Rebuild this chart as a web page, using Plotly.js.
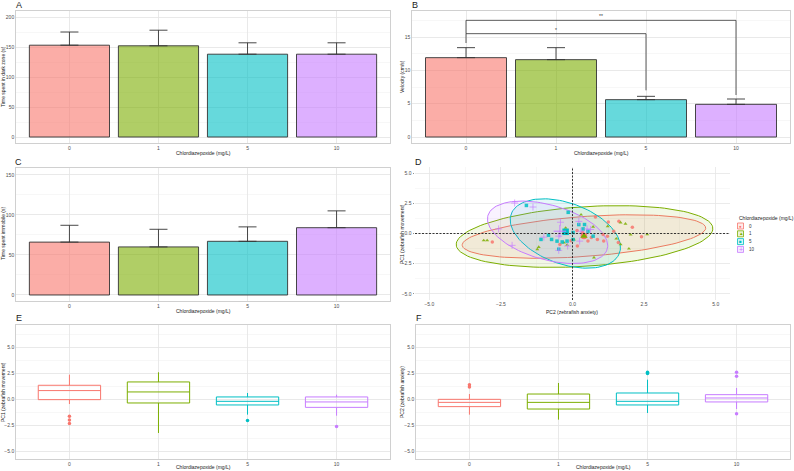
<!DOCTYPE html>
<html>
<head>
<meta charset="utf-8">
<script src="https://cdn.plot.ly/plotly-3.0.1.min.js"></script>
<style>
  body { margin: 0; background: #fff; }
  #chart { width: 794px; height: 471px; }
</style>
</head>
<body>
<div id="chart"></div>
<script>
// groups
var doses = ['0', '1', '5', '10'];
var hue = ['248,118,109', '124,174,0', '0,191,196', '199,124,255'];

// A: time in dark zone (mean + upper error)
var darkMean = [153, 152, 138, 138];
var darkErr = [22, 26, 19, 19];
// B: velocity
var velMean = [11.9, 11.6, 5.6, 4.9];
var velErr = [1.5, 1.8, 0.5, 0.8];
// C: time immobile
var immMean = [66, 60, 67, 84];
var immErr = [21, 22, 18, 21];

// B significance brackets
var brk1X = ['0', '0', '5', '5'];
var brk1Y = [14.1, 15.5, 15.5, 7.0];
var brk2X = ['0', '0', '10', '10'];
var brk2Y = [15.5, 17.5, 17.5, 6.3];

// D: PCA scores (x = PC2, y = PC1)
var pc2_0 = [-2.8, 0.8, 1.62, 2.09, 2.41, 1.07, 1.22, 0.87, 0.66, 0.54, 1.09, 1.6, 1.44, 0.17, -0.44, -0.05, 0.16, 1.25, 0.35];
var pc1_0 = [-0.71, 1.37, 1.01, 0.52, -0.27, -0.08, -0.22, -0.49, -0.33, -0.63, -0.63, -0.74, 0.19, -1.04, -0.9, -0.6, 0.25, 0.95, 0.1];
var pc2_1 = [-3.1, -2.98, -1.23, -1.18, 0.3, 1.23, 1.68, 1.85, 2.61, 2.03, 1.53, 1.68, 1.97, 0.75, 0.72, -0.24, -0.3, 0.05, -0.19];
var pc1_1 = [-0.57, -0.57, -1.31, -1.12, 1.56, 0.6, 0.9, 0.8, -0.08, -0.1, -0.43, -0.9, -1.26, -1.99, 0.55, 0.46, -0.76, -0.5, -0.95];
var pc2_5 = [-1.61, -0.15, 0.42, 0.22, 0.37, 0.54, 0.72, 0.02, 0.02, -1.1, -0.73, -0.54, -0.19, -0.48, -0.84, -0.36];
var pc1_5 = [2.32, 1.75, 0.74, 0.74, 0.38, 0.19, -0.22, 0.08, -0.5, -0.49, -0.49, -0.63, -0.63, -1.3, -0.14, -0.7];
var pc2_10 = [-2.02, -1.38, -2.58, -2.11, -0.42, -1.0, -0.48, -0.48, 0.22, 0.51, 0.29, 0.63, -0.17, 0.25];
var pc1_10 = [2.52, 2.19, 0.38, -0.98, 0.93, -0.3, -0.22, -1.39, 1.0, 0.38, 0.19, 0.33, -1.04, -0.63];
var cenX = [0.4, 0.4, -0.24, -0.44];
var cenY = [-0.2, -0.22, 0.14, 0.19];
// ellipses: centre, semi-axes, angle (deg)
var ellCx = [0.4, 0.42, -0.25, -0.87];
var ellCy = [-0.25, -0.25, 0.0, 0.1];
var ellA = [4.32, 4.55, 3.02, 2.85];
var ellB = [1.63, 2.43, 1.68, 1.72];
var ellAng = [11, 11.8, 112, 122];

// E: PC1 boxplots
var pc1Q1 = [0.0, -0.32, -0.51, -0.74];
var pc1Med = [0.87, 0.74, -0.16, -0.22];
var pc1Q3 = [1.38, 1.7, 0.26, 0.26];
var pc1Lo = [-0.42, -3.2, -1.44, -1.54];
var pc1Hi = [2.4, 2.63, 0.64, 0.48];
var pc1Out = [[-1.6, -1.95, -2.3], [], [-2.0], [-2.57]];
// F: PC2 boxplots
var pc2Q1 = [-0.67, -0.9, -0.51, -0.22];
var pc2Med = [-0.26, -0.26, -0.16, 0.16];
var pc2Q3 = [0.03, 0.54, 0.64, 0.48];
var pc2Lo = [-1.44, -1.92, -1.28, -0.9];
var pc2Hi = [0.54, 1.6, 1.92, 1.12];
var pc2Out = [[1.44, 1.22], [], [2.63, 2.5], [2.63, 2.24, -1.35]];

var W = 794, H = 471;
function px(x) { return x / W; }
function py(y) { return 1 - y / H; }
function col(i, a) { return 'rgba(' + hue[i] + ',' + a + ')'; }

var ink = '#333333';
var tickFont = {size: 5, color: '#4d4d4d'};

function catAxis(x0, x1, anchor) {
    return {domain: [px(x0), px(x1)], anchor: anchor, type: 'category',
        categoryorder: 'array', categoryarray: doses, range: [-0.6, 3.6],
        showgrid: true, gridcolor: '#e3e3e3', gridwidth: 0.8, zeroline: false,
        showline: true, mirror: true, linecolor: '#c4c4c4', linewidth: 0.8,
        ticks: '', tickfont: tickFont, fixedrange: true};
}
function valAxis(top, bottom, anchor, range, dtick, fmt) {
    return {domain: [py(bottom), py(top)], anchor: anchor, range: range,
        dtick: dtick, tick0: 0, tickformat: fmt || '',
        showgrid: true, gridcolor: '#e3e3e3', gridwidth: 0.8, zeroline: false,
        minor: {dtick: dtick / 2, tick0: 0, showgrid: true, gridcolor: '#efefef', gridwidth: 0.5},
        showline: true, mirror: true, linecolor: '#c4c4c4', linewidth: 0.8,
        ticks: '', tickfont: tickFont, fixedrange: true};
}

function barTrace(vals, errs, xa, ya) {
    return {type: 'bar', x: doses, y: vals, xaxis: xa, yaxis: ya, width: 0.9,
        marker: {color: doses.map(function (d, i) { return col(i, 0.6); }),
                 line: {color: ink, width: 0.9}},
        error_y: {type: 'data', symmetric: false, array: errs, arrayminus: [0, 0, 0, 0],
                  color: ink, thickness: 0.9, width: 9},
        hoverinfo: 'skip'};
}

var data = [
    barTrace(darkMean, darkErr, 'x', 'y'),
    barTrace(velMean, velErr, 'x2', 'y2'),
    barTrace(immMean, immErr, 'x3', 'y3'),
    {type: 'scatter', mode: 'lines', x: brk1X, y: brk1Y, xaxis: 'x2', yaxis: 'y2',
     line: {color: ink, width: 0.8}},
    {type: 'scatter', mode: 'lines', x: brk2X, y: brk2Y, xaxis: 'x2', yaxis: 'y2',
     line: {color: ink, width: 0.8}}
];

// D: ellipses
function ellipse(i) {
    var xs = [], ys = [], t = ellAng[i] * Math.PI / 180;
    for (var k = 0; k <= 120; k++) {
        var u = 2 * Math.PI * k / 120;
        var ex = ellA[i] * Math.cos(u), ey = ellB[i] * Math.sin(u);
        xs.push(ellCx[i] + ex * Math.cos(t) - ey * Math.sin(t));
        ys.push(ellCy[i] + ex * Math.sin(t) + ey * Math.cos(t));
    }
    return {x: xs, y: ys};
}
for (var i = 0; i < 4; i++) {
    var e = ellipse(i);
    data.push({type: 'scatter', mode: 'lines', x: e.x, y: e.y, xaxis: 'x4', yaxis: 'y4',
        fill: 'toself', fillcolor: col(i, 0.1), line: {color: col(i, 1), width: 1}});
}
var pcX = [pc2_0, pc2_1, pc2_5, pc2_10];
var pcY = [pc1_0, pc1_1, pc1_5, pc1_10];
var syms = ['circle', 'triangle-up', 'square', 'cross-thin'];
for (var i = 0; i < 4; i++) {
    var cross = syms[i] === 'cross-thin';
    data.push({type: 'scatter', mode: 'markers', x: pcX[i], y: pcY[i], xaxis: 'x4', yaxis: 'y4',
        marker: {symbol: syms[i], size: cross ? 5 : 3.5, color: col(i, 0.85),
                 line: {color: col(i, 0.85), width: cross ? 0.8 : 0}}});
}
for (var i = 0; i < 4; i++) {
    var cross = syms[i] === 'cross-thin';
    data.push({type: 'scatter', mode: 'markers', x: [cenX[i]], y: [cenY[i]], xaxis: 'x4', yaxis: 'y4',
        marker: {symbol: syms[i], size: cross ? 9 : 6.5, color: col(i, 1),
                 line: {color: col(i, 1), width: cross ? 1 : 0}}});
}

// E, F: boxplots
function boxes(q1, med, q3, lo, hi, out, xa, ya) {
    for (var i = 0; i < 4; i++) {
        data.push({type: 'box', x: [doses[i]], q1: [q1[i]], median: [med[i]], q3: [q3[i]],
            lowerfence: [lo[i]], upperfence: [hi[i]], xaxis: xa, yaxis: ya, width: 0.7,
            whiskerwidth: 0, boxpoints: false, line: {color: col(i, 1), width: 1},
            fillcolor: 'rgba(255,255,255,0)'});
        if (out[i].length) {
            data.push({type: 'scatter', mode: 'markers', xaxis: xa, yaxis: ya,
                x: out[i].map(function () { return doses[i]; }), y: out[i],
                marker: {size: 3.5, color: col(i, 1)}});
        }
    }
}
boxes(pc1Q1, pc1Med, pc1Q3, pc1Lo, pc1Hi, pc1Out, 'x5', 'y5');
boxes(pc2Q1, pc2Med, pc2Q3, pc2Lo, pc2Hi, pc2Out, 'x6', 'y6');

// text helpers
function txt(s, x, y, size, opts) {
    var a = {text: s, x: px(x), y: py(y), xref: 'paper', yref: 'paper', showarrow: false,
             xanchor: 'center', yanchor: 'middle', font: {size: size, color: '#1a1a1a'}};
    for (var k in opts || {}) a[k] = opts[k];
    return a;
}
var xlab = 'Chlordiazepoxide (mg/L)';
var annotations = [
    txt('A', 18.5, 5.5, 9), txt('B', 414.5, 5.5, 9), txt('C', 18.5, 161.5, 9),
    txt('D', 418.5, 161.5, 9), txt('E', 19, 317.5, 9), txt('F', 418.5, 317.5, 9),
    txt(xlab, 203, 153, 5), txt(xlab, 601, 153, 5), txt(xlab, 203, 311, 5),
    txt('PC2 (zebrafish anxiety)', 572, 312, 5), txt(xlab, 203, 467, 5), txt(xlab, 603, 467, 5),
    txt('Time spent in dark zone (s)', 3, 77, 5, {textangle: -90}),
    txt('Velocity (cm/s)', 402, 77, 5, {textangle: -90}),
    txt('Time spent immobile (s)', 3, 234, 5, {textangle: -90}),
    txt('PC1 (zebrafish movement)', 402, 234, 5, {textangle: -90}),
    txt('PC1 (zebrafish movement)', 3, 392, 5, {textangle: -90}),
    txt('PC2 (zebrafish anxiety)', 402, 392, 5, {textangle: -90}),
    {text: '*', x: 1, y: 16.1, xref: 'x2', yref: 'y2', showarrow: false, font: {size: 5, color: ink}},
    {text: '**', x: 1.5, y: 18.1, xref: 'x2', yref: 'y2', showarrow: false, font: {size: 5, color: ink}},
    txt(xlab, 737, 218, 5, {xanchor: 'left'})
];

// D legend keys
var keyY = [226, 233.8, 241.6, 249.4];
var keyGlyph = ['●', '▲', '■', '+'];
var shapes = [
    {type: 'line', xref: 'x4', yref: 'y4 domain', x0: 0, x1: 0, y0: 0, y1: 1,
     line: {color: '#222', width: 0.9, dash: '2px,1.5px'}},
    {type: 'line', xref: 'x4 domain', yref: 'y4', x0: 0, x1: 1, y0: 0, y1: 0,
     line: {color: '#222', width: 0.9, dash: '2px,1.5px'}}
];
for (var i = 0; i < 4; i++) {
    shapes.push({type: 'rect', xref: 'paper', yref: 'paper',
        x0: px(737.5), x1: px(743.5), y0: py(keyY[i] + 3), y1: py(keyY[i] - 3),
        fillcolor: col(i, 0.15), line: {color: col(i, 1), width: 0.8}});
    annotations.push(txt(keyGlyph[i], 740.5, keyY[i], i === 3 ? 7 : 4.5, {font: {size: i === 3 ? 7 : 4.5, color: col(i, 1)}}));
    annotations.push(txt(doses[i], 747, keyY[i], 4.5, {xanchor: 'left', font: {size: 4.5, color: ink}}));
}

var dAxisX = {domain: [px(415), px(730)], anchor: 'y4', range: [-5.5, 5.5], dtick: 2.5, tick0: 0,
    tickformat: '.1f', showgrid: true, gridcolor: '#e6e6e6', gridwidth: 0.8, zeroline: false,
    minor: {dtick: 1.25, tick0: 0, showgrid: true, gridcolor: '#f1f1f1', gridwidth: 0.5},
    showline: false, ticks: 'outside', ticklen: 1.5, tickwidth: 0.6, tickcolor: '#4d4d4d',
    tickfont: tickFont, fixedrange: true};
var dAxisY = JSON.parse(JSON.stringify(dAxisX));
dAxisY.domain = [py(300), py(167)];
dAxisY.anchor = 'x4';
dAxisX.ticks = '';

var layout = {
    width: W, height: H, margin: {l: 0, r: 0, t: 0, b: 0},
    paper_bgcolor: '#ffffff', plot_bgcolor: '#ffffff', showlegend: false,
    font: {family: 'Liberation Sans, Arial, sans-serif', size: 5, color: '#4d4d4d'},
    bargap: 0.1,
    xaxis: catAxis(16, 390, 'y'),
    yaxis: valAxis(11, 143, 'x', [-10, 210], 50),
    xaxis2: catAxis(412, 790, 'y2'),
    yaxis2: valAxis(11, 143, 'x2', [-0.9, 18.9], 5),
    xaxis3: catAxis(16, 390, 'y3'),
    yaxis3: valAxis(168, 301, 'x3', [-7.5, 158.5], 50),
    xaxis4: dAxisX,
    yaxis4: dAxisY,
    xaxis5: catAxis(16, 390, 'y5'),
    yaxis5: valAxis(325, 459, 'x5', [-5.7, 7.17], 2.5, '.1f'),
    xaxis6: catAxis(416, 790, 'y6'),
    yaxis6: valAxis(325, 459, 'x6', [-5.7, 7.17], 2.5, '.1f'),
    annotations: annotations,
    shapes: shapes
};

Plotly.newPlot('chart', data, layout, {displayModeBar: false, staticPlot: true});
</script>
</body>
</html>
